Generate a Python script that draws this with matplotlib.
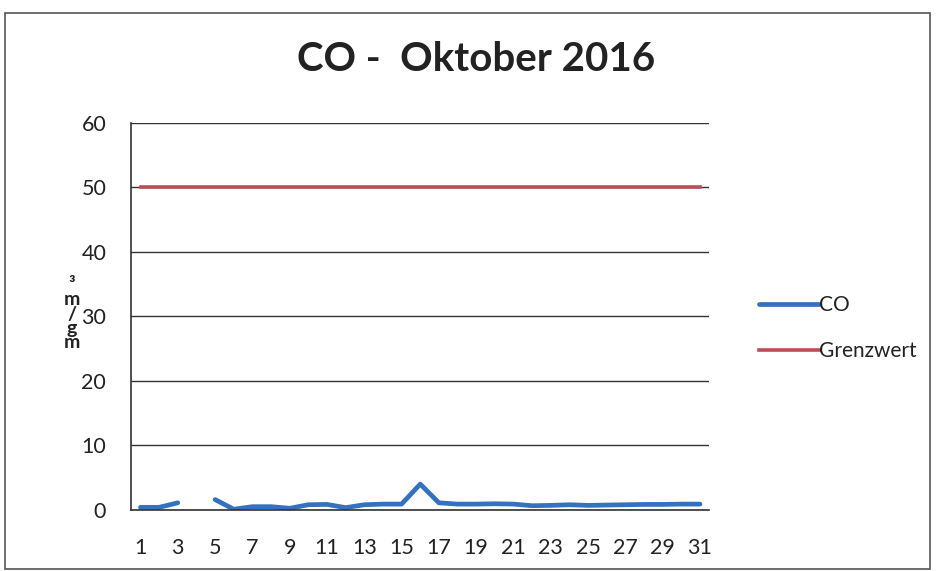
import numpy as np
import matplotlib
matplotlib.use("Agg")
import matplotlib.pyplot as plt
from matplotlib.patches import Rectangle

plt.rcParams['font.family'] = ['Lato', 'DejaVu Sans']

days = list(range(1, 32))
co = [0.4, 0.4, 1.1, np.nan, 1.6, 0.1, 0.5, 0.5, 0.25, 0.8, 0.85, 0.35, 0.8, 0.9, 0.9,
      4.0, 1.1, 0.9, 0.9, 0.95, 0.9, 0.65, 0.7, 0.8, 0.7, 0.75, 0.8, 0.85, 0.85, 0.9, 0.9]
grenzwert = [50] * 31
xtick_labels = [str(d) for d in range(1, 32, 2)]
yticks = [0, 10, 20, 30, 40, 50, 60]

fig = plt.figure(figsize=(9.37, 5.71), dpi=100)
fig.patches.append(Rectangle((0.005, 0.004), 0.988, 0.974, transform=fig.transFigure,
                             fill=False, edgecolor='#555555', linewidth=1.2))
ax = fig.add_axes([0.14, 0.107, 0.617, 0.678])

ax.plot(days, co, color='#3372C0', linewidth=3.4, solid_capstyle='round', label='CO')
ax.plot(days, grenzwert, color='#BE4B55', linewidth=2.6, label='Grenzwert')

ax.set_xlim(0.5, 31.5)
ax.set_ylim(0, 60)
ax.set_yticks(yticks)
ax.set_yticklabels([str(v) for v in yticks], fontsize=15.5, color='#222222')
ax.set_xticks(range(1, 32, 2))
ax.set_xticklabels(xtick_labels, fontsize=15.5, color='#222222')
ax.tick_params(axis='y', length=0, pad=18)
ax.tick_params(axis='x', length=0, pad=20)
ax.yaxis.grid(True, color='#333333', linewidth=1.0)
ax.set_axisbelow(True)
for s in ['top', 'right']:
    ax.spines[s].set_visible(False)
ax.spines['left'].set_color('#333333')
ax.spines['bottom'].set_color('#333333')
ax.spines['left'].set_linewidth(1.2)
ax.spines['bottom'].set_linewidth(1.2)

fig.text(0.508, 0.895, 'CO -  Oktober 2016', ha='center', va='center',
         fontsize=29, fontweight='bold', color='#222222')

fig.text(0.077, 0.45, '³\nm\n/\ng\nm', ha='center', va='center', fontsize=14,
         fontweight='bold', linespacing=0.8, color='#222222')

leg = fig.legend(handles=ax.get_lines(), labels=['CO', 'Grenzwert'],
                 loc='center left', bbox_to_anchor=(0.79, 0.425), frameon=False,
                 fontsize=15, handlelength=2.9, handletextpad=0.0, labelspacing=1.25)
for t in leg.get_texts():
    t.set_color('#222222')

fig.savefig('out.png', dpi=100)
